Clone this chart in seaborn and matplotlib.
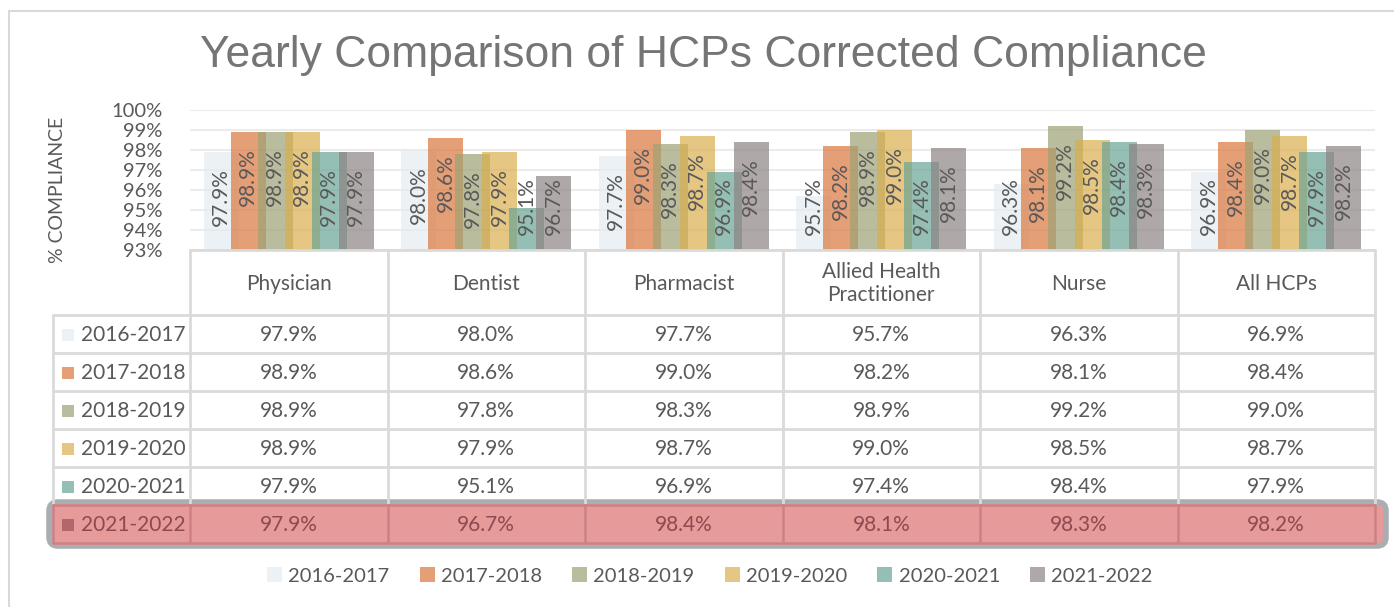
import matplotlib
matplotlib.use("Agg")
import matplotlib.pyplot as plt
from matplotlib.patches import Rectangle, FancyBboxPatch, Patch
import seaborn as sns
import pandas as pd

# ---------------- data ----------------
categories = ["Physician", "Dentist", "Pharmacist", "Allied Health Practitioner", "Nurse", "All HCPs"]
header_labels = ["Physician", "Dentist", "Pharmacist", "Allied Health\nPractitioner", "Nurse", "All HCPs"]
years = ["2016-2017", "2017-2018", "2018-2019", "2019-2020", "2020-2021", "2021-2022"]
v_2016_2017 = [97.9, 98.0, 97.7, 95.7, 96.3, 96.9]
v_2017_2018 = [98.9, 98.6, 99.0, 98.2, 98.1, 98.4]
v_2018_2019 = [98.9, 97.8, 98.3, 98.9, 99.2, 99.0]
v_2019_2020 = [98.9, 97.9, 98.7, 99.0, 98.5, 98.7]
v_2020_2021 = [97.9, 95.1, 96.9, 97.4, 98.4, 97.9]
v_2021_2022 = [97.9, 96.7, 98.4, 98.1, 98.3, 98.2]
series = [v_2016_2017, v_2017_2018, v_2018_2019, v_2019_2020, v_2020_2021, v_2021_2022]
y_ticks = [93, 94, 95, 96, 97, 98, 99, 100]

colors = ["#E5ECF1", "#DA773E", "#9CA274", "#DAAE4E", "#69A495", "#8E8383"]
ALPHA = 0.7

rows = []
for yr, vals in zip(years, series):
    for c, v in zip(categories, vals):
        rows.append({"cat": c, "year": yr, "val": v})
df = pd.DataFrame(rows)

# ---------------- layout (pixels) ----------------
W, H = 1394, 607
PL, PR = 190, 1375
PT, PB = 110, 250
GW = (PR - PL) / len(categories)
TL = 53
HEADER_B = 315
ROW_H = 38

sns.set_theme(style="white")
plt.rcParams["font.family"] = ["Lato", "DejaVu Sans"]
TXT = "#595959"

fig = plt.figure(figsize=(W / 100, H / 100), dpi=100)
ax = fig.add_axes([PL / W, (H - PB) / H, (PR - PL) / W, (PB - PT) / H])

sns.barplot(data=df, x="cat", y="val", hue="year", hue_order=years, order=categories,
            palette=colors, alpha=ALPHA, width=0.82, ax=ax, legend=False,
            saturation=1, errorbar=None)

# widen bars so they overlap like the original
bw = 35 / GW
for cont in ax.containers:
    for p in cont.patches:
        cx = p.get_x() + p.get_width() / 2
        p.set_width(bw)
        p.set_x(cx - bw / 2)
        p.set_edgecolor("none")

ax.set_xlim(-0.5, len(categories) - 0.5)
ax.set_ylim(93, 100)
ax.set_yticks(y_ticks)
ax.set_yticklabels([f"{t}%" for t in y_ticks])
ax.tick_params(axis="y", length=0, pad=20, labelsize=14.5, labelcolor=TXT)
ax.set_xticks([])
ax.set_xlabel("")
ax.set_ylabel("")
for s in ax.spines.values():
    s.set_visible(False)
ax.grid(axis="y", color="#EBEBEB", linewidth=1.5)
ax.set_axisbelow(True)

# bar labels
for cont in ax.containers:
    for p in cont.patches:
        v = p.get_height()
        cx = p.get_x() + p.get_width() / 2
        ax.text(cx, max(v - 2.25, 95.2), f"{v:.1f}%", rotation=90, ha="center", va="center",
                fontsize=15, color=TXT, zorder=5)

# ---------------- overlay: frame, title, table ----------------
ov = fig.add_axes([0, 0, 1, 1], zorder=-1)
ov.set_xlim(0, W)
ov.set_ylim(H, 0)
ov.axis("off")
ov2 = fig.add_axes([0, 0, 1, 1], zorder=3)
ov2.set_xlim(0, W)
ov2.set_ylim(H, 0)
ov2.axis("off")
ov2.patch.set_alpha(0)

FR = "#D9D9D9"
ov.plot([9, 9], [11, H], color=FR, lw=1.5)
ov.plot([9, W], [11, 11], color=FR, lw=1.5)

fig.text(703 / W, 1 - 56 / H, "Yearly Comparison of HCPs Corrected Compliance", ha="center", va="center",
         fontsize=32, color="#757575", family=["Liberation Sans", "DejaVu Sans"])
fig.text(58 / W, 1 - 190 / H, "% COMPLIANCE", rotation=90, ha="center", va="center",
         fontsize=14, color=TXT)

n_rows = len(years)
TB = HEADER_B + n_rows * ROW_H
col_edges = [PL + i * GW for i in range(len(categories) + 1)]

# highlight last row
hy0 = HEADER_B + (n_rows - 1) * ROW_H
ov.add_patch(FancyBboxPatch((49, hy0 - 3), 1337, ROW_H + 6, boxstyle="round,pad=0,rounding_size=9",
                            facecolor="#E69A9A", edgecolor="#A9AEB2", lw=4, zorder=1))

LC = "#DADADA"
# grid lines
ov2.plot([PL, PR], [PB, PB], color=LC, lw=2)
for x in col_edges:
    ov2.plot([x, x], [PB, TB], color=LC, lw=2, zorder=2)
ov2.plot([TL, TL], [HEADER_B, TB], color=LC, lw=2)
for i in range(n_rows + 1):
    y = HEADER_B + i * ROW_H
    ov2.plot([TL, PR], [y, y], color=LC, lw=2, zorder=2)
# highlight row cell borders
HLC = "#D07F82"
for x in col_edges:
    ov2.plot([x, x], [hy0, TB], color=HLC, lw=2, zorder=2.5)
ov2.plot([TL, TL], [hy0, TB], color=HLC, lw=2, zorder=2.5)
ov2.plot([TL, PR], [hy0, hy0], color=HLC, lw=2, zorder=2.5)
ov2.plot([TL, PR], [TB, TB], color=HLC, lw=2, zorder=2.5)

for i, lab in enumerate(header_labels):
    cx = PL + (i + 0.5) * GW
    ov2.text(cx, (PB + HEADER_B) / 2 + 1, lab, ha="center", va="center", fontsize=15, color=TXT,
             linespacing=1.15)

for r, (yr, vals) in enumerate(zip(years, series)):
    cy = HEADER_B + r * ROW_H + ROW_H / 2 + 1
    last = r == n_rows - 1
    tc = "#8E4A4F" if last else TXT
    sq = "#B5666B" if last else colors[r]
    ov2.add_patch(Rectangle((62, cy - 6.5), 12, 12, facecolor=sq, alpha=1 if last else ALPHA,
                            edgecolor="none"))
    ov2.text(81, cy, yr, ha="left", va="center", fontsize=15, color=tc)
    for i, v in enumerate(vals):
        cx = PL + (i + 0.5) * GW
        ov2.text(cx, cy, f"{v:.1f}%", ha="center", va="center", fontsize=15, color=tc)

# legend
handles = [Patch(facecolor=c, alpha=ALPHA, edgecolor="none") for c in colors]
fig.legend(handles, years, ncol=6, loc="center", bbox_to_anchor=(710 / W, 1 - 576 / H), frameon=False,
           fontsize=14.5, handlelength=0.75, handleheight=0.75, handletextpad=0.3, columnspacing=1.5,
           labelcolor=TXT)

fig.savefig("out.png", dpi=100)
